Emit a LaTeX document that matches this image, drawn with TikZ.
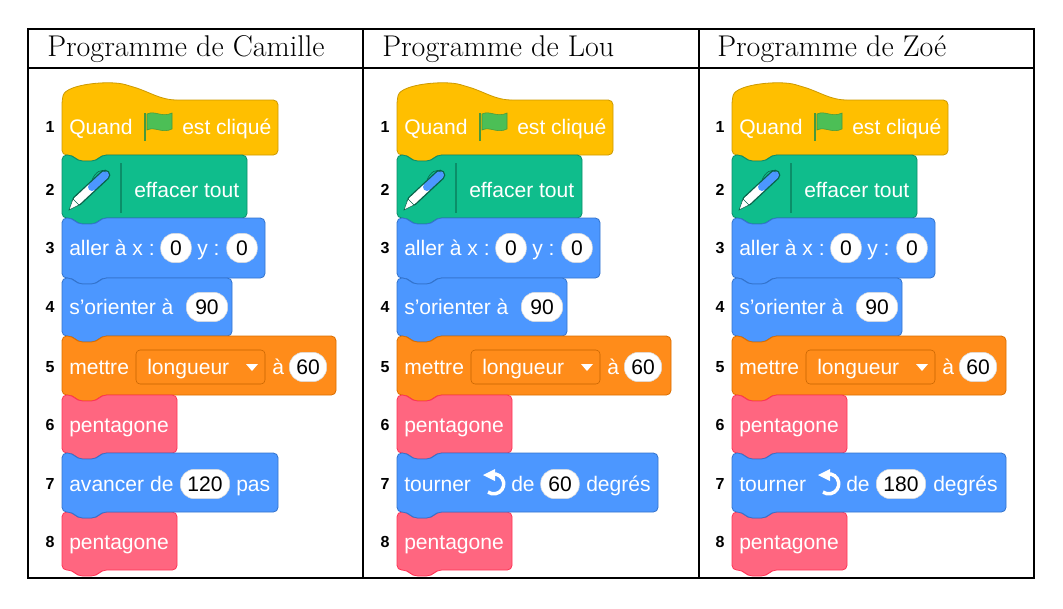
\documentclass[tikz,border=0pt]{standalone}
\usepackage{fontspec}
\newfontfamily\scr{Liberation Sans}
\usetikzlibrary{positioning}
\definecolor{evtfill}{HTML}{FFBF00}\definecolor{evtedge}{HTML}{CC9900}
\definecolor{penfill}{HTML}{0FBD8C}\definecolor{penedge}{HTML}{0B8E69}
\definecolor{motfill}{HTML}{4C97FF}\definecolor{motedge}{HTML}{3373CC}
\definecolor{varfill}{HTML}{FF8C1A}\definecolor{varedge}{HTML}{DB6E00}
\definecolor{myfill}{HTML}{FF6680}\definecolor{myedge}{HTML}{FF3355}
\definecolor{flagfill}{HTML}{4CBF56}\definecolor{flagedge}{HTML}{45993D}
\tikzset{
  lbl/.style={anchor=west,inner sep=0pt,text=white,text height=10.5pt,text depth=0pt,font=\scr\fontsize{15.8}{17}\selectfont},
  pill/.style={fill=white,draw=black!15,rounded corners=10.5pt,minimum height=22pt,inner sep=0pt,text height=10.5pt,text depth=0pt,font=\scr\fontsize{15.8}{17}\selectfont},
  num/.style={inner sep=0pt,font=\scr\bfseries\fontsize{12}{13}\selectfont},
  head/.style={anchor=base west,inner sep=0pt,font=\fontsize{22.5}{26}\selectfont},
  evt/.style={fill=evtfill,draw=evtedge},
  pen/.style={fill=penfill,draw=penedge},
  mot/.style={fill=motfill,draw=motedge},
  var/.style={fill=varfill,draw=varedge},
  my/.style={fill=myfill,draw=myedge},
}
% stack block: left, top, right, bottom, style
\newcommand\stackblock[5]{%
  \draw[#5,rounded corners=3.5pt,line width=0.6pt] (#1,#2) -- ({#1+10},#2) -- ({#1+16},{#2+6}) -- ({#1+34},{#2+6}) -- ({#1+40},#2)
    -- (#3,#2) -- (#3,#4) -- ({#1+40},#4) -- ({#1+34},{#4+6}) -- ({#1+16},{#4+6}) -- ({#1+10},#4) -- (#1,#4) -- cycle;}
\begin{document}
\begin{tikzpicture}[x=0.75pt,y=-0.75pt]
\useasboundingbox (0,0) rectangle (1063,608);
%% table
\draw[line width=1.5pt] (28,29) rectangle (1034,578);
\draw[line width=1.5pt] (28,68) -- (1034,68);
\draw[line width=1.5pt] (363,29) -- (363,578) (699,29) -- (699,578);
\node[head] (h1) at (47,56) {Programme de Camille};
\node[head] (h2) at (382,56) {Programme de Lou};
\node[head] (h3) at (717,56) {Programme de Zoé};
%% common blocks
\foreach \c in {0,335,670}{
\begin{scope}[xshift=\c*0.75pt]
  % hat block
  \draw[evt,rounded corners=3.5pt,line width=0.6pt] (62,100) .. controls (66,84) and (110,80) .. (130,86)
    .. controls (150,92) and (160,100) .. (182,100) -- (278,100) -- (278,155) -- (102,155) -- (96,161) -- (78,161) -- (72,155) -- (62,155) -- cycle;
  \stackblock{62}{155}{247}{218}{pen}
  \stackblock{62}{218}{265}{278}{mot}
  \stackblock{62}{278}{232}{336}{mot}
  \stackblock{62}{336}{336}{395}{var}
  \stackblock{62}{395}{177}{453}{my}
  \stackblock{62}{512}{177}{570}{my}
  \foreach \i/\y in {1/127,2/190,3/248,4/307,5/367,6/425,7/484,8/542}
    \node[num] (n\i-\c) at (50,\y) {\i};
  % 1
  \node[lbl] (quand-\c) at (69,127) {Quand};
  \draw[flagedge,line width=1pt] (145,113) -- (145,141);
  \draw[fill=flagfill,draw=flagedge] (147,114) .. controls (155,110) and (162,118) .. (172,113) -- (172,129)
    .. controls (162,134) and (155,126) .. (147,130) -- cycle;
  \node[lbl] (clic-\c) at (182,127) {est cliqué};
  % 2
  \draw[line width=8pt,color=penedge!70!black,line cap=round] (77,201) -- (105,175);
  \draw[line width=6pt,white,line cap=round] (77,201) -- (92,187);
  \draw[line width=6pt,motfill,line cap=round] (92,187) -- (105,175);
  \fill[white,draw=penedge!70!black] (69,210) -- (73,199) -- (79,205) -- cycle;
  \draw[penedge!70!black] (92,180) .. controls (95,172) and (102,168) .. (106,172);
  \draw[penedge,line width=1pt] (121,163) -- (121,213);
  \node[lbl] (eff-\c) at (134,190) {effacer tout};
  % 3
  \node[lbl] (aller-\c) at (69,248) {aller à x :};
  \node[pill,minimum width=23pt] (px-\c) at (176,248) {0};
  \node[lbl] (yy-\c) at (197,248) {y :};
  \node[pill,minimum width=23pt] (py-\c) at (242,248) {0};
  % 4
  \node[lbl] (ori-\c) at (69,307) {s’orienter à};
  \node[pill,minimum width=31pt] (pa-\c) at (207,307) {90};
  % 5
  \node[lbl] (met-\c) at (69,367) {mettre};
  \draw[var,rounded corners=3pt,draw=varedge!90!black] (136,350) rectangle (265,384);
  \node[lbl] (lon-\c) at (147,367) {longueur};
  \fill[white] (246,364) -- (258,364) -- (252,371) -- cycle;
  \node[lbl] (a-\c) at (272,367) {à};
  \node[pill,minimum width=28pt] (pl-\c) at (308,367) {60};
  % 6, 8
  \node[lbl] (pent-\c) at (69,425) {pentagone};
  \node[lbl] (pentb-\c) at (69,542) {pentagone};
\end{scope}}
%% line 7
\stackblock{62}{453}{278}{512}{mot}
\node[lbl] (av) at (69,484) {avancer de};
\node[pill,minimum width=37pt] (pd) at (205,484) {120};
\node[lbl] (pas) at (236,484) {pas};
\foreach \c/\r/\m/\w in {335/658/60/29pt,670/1006/180/37pt}{
\begin{scope}[xshift=\c*0.75pt]
  \stackblock{62}{453}{\r-\c}{512}{mot}
  \node[lbl] (tour-\c) at (69,484) {tourner};
  \begin{scope}[shift={(159,484)},x=0.75pt,y=0.75pt]
    \draw[white,line width=2.6pt] (-2,10) arc[start angle=100,end angle=-125,radius=10];
    \fill[white] (-11,9) -- (1,15) -- (1,3) -- cycle;
  \end{scope}
  \node[lbl] (de-\c) at (176,484) {de};
  \node[pill,minimum width=\w] (pt-\c) at ({(\m==60)*225+(\m==180)*231},484) {\m};
  \node[lbl] (deg-\c) at ({(\m==60)*251+(\m==180)*263},484) {degrés};
\end{scope}}
\end{tikzpicture}
\end{document}
